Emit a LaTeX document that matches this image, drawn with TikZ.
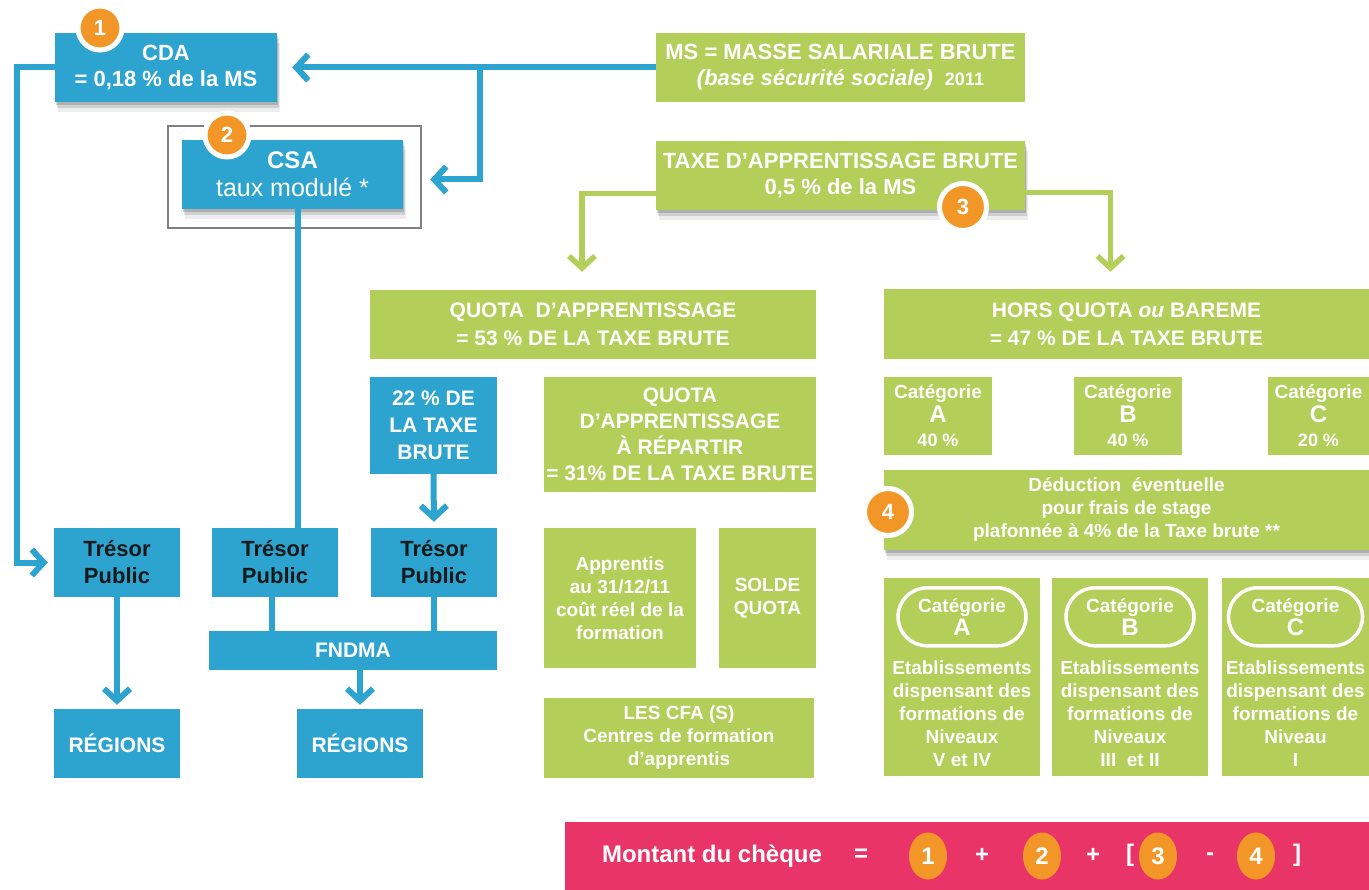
\documentclass[tikz,border=0pt]{standalone}
\usepackage{fontspec}
\setmainfont{Liberation Sans}
\usetikzlibrary{arrows.meta, shadows, shapes.misc, shapes.geometric}

\definecolor{ablue}{RGB}{45,164,208}
\definecolor{agreen}{RGB}{180,206,90}
\definecolor{aorange}{RGB}{243,150,40}
\definecolor{apink}{RGB}{232,52,103}
\definecolor{aframe}{RGB}{128,128,128}
\definecolor{adark}{RGB}{25,25,25}

\newcommand{\fs}[2]{\fontsize{#1}{#2}\selectfont}

\tikzstyle{bluebox} = [rectangle, fill=ablue, text=white, font=\bfseries\fs{21}{26}, align=center, inner sep=0pt]
\tikzstyle{greenbox} = [rectangle, fill=agreen, text=white, font=\bfseries\fs{21}{26}, align=center, inner sep=0pt]
\tikzstyle{boxshadow} = [drop shadow={shadow xshift=1pt, shadow yshift=-3pt, fill=black, opacity=0.16},
  drop shadow={shadow xshift=2pt, shadow yshift=-6pt, fill=black, opacity=0.12},
  drop shadow={shadow xshift=3pt, shadow yshift=-10pt, fill=black, opacity=0.07}]
\tikzstyle{badge} = [circle, fill=aorange, draw=white, line width=5pt, minimum size=44pt, text=white, font=\bfseries\fs{22}{22}, inner sep=0pt]
\tikzstyle{pill} = [ellipse, fill=aorange, minimum width=38pt, minimum height=47pt, text=white, font=\bfseries\fs{24}{24}, inner sep=0pt]
\tikzstyle{oval} = [rounded rectangle, draw=white, line width=3.5pt, minimum width=128pt, minimum height=58pt, text=white, font=\bfseries\fs{19}{23}, align=center, inner sep=0pt]
\tikzstyle{bline} = [draw=ablue, line width=6pt]
\tikzstyle{barrow} = [bline, -{Straight Barb[length=12pt, width=26pt]}]
\tikzstyle{garrow} = [draw=agreen, line width=5.5pt, -{Straight Barb[length=12pt, width=26pt]}]
\tikzstyle{bartext} = [text=white, font=\bfseries\fs{24}{24}, inner sep=0pt]

\begin{document}
\begin{tikzpicture}[x=1pt, y=-1pt]
\useasboundingbox (0,0) rectangle (1369,890);

% left branch
\node (cda) [bluebox, boxshadow, minimum width=222pt, minimum height=69pt, font=\bfseries\fs{22}{26}] at (166,67.5) {CDA\\= 0,18 \% de la MS};
\draw [aframe, line width=1.5pt] (168,126) rectangle (421,228);
\node (csa) [bluebox, boxshadow, minimum width=221pt, minimum height=69pt, font=\bfseries\fs{24}{28}] at (292.5,174.5) {CSA\\{\mdseries\fs{25}{28}taux modulé *}};
\node (pct) [bluebox, minimum width=127pt, minimum height=97pt, font=\bfseries\fs{21}{27}] at (433.5,425.5) {22 \% DE\\LA TAXE\\BRUTE};

\node (tresorA) [bluebox, text=adark, minimum width=126pt, minimum height=69pt, font=\bfseries\fs{22}{27}] at (117,562.5) {Trésor\\Public};
\node (tresorB) [bluebox, text=adark, minimum width=126pt, minimum height=69pt, font=\bfseries\fs{22}{27}] at (275,562.5) {Trésor\\Public};
\node (tresorC) [bluebox, text=adark, minimum width=126pt, minimum height=69pt, font=\bfseries\fs{22}{27}] at (434,562.5) {Trésor\\Public};
\node (fndma) [bluebox, minimum width=288pt, minimum height=39pt] at (353,650.5) {FNDMA};
\node (regionsA) [bluebox, minimum width=126pt, minimum height=69pt] at (117,743.5) {RÉGIONS};
\node (regionsB) [bluebox, minimum width=126pt, minimum height=69pt] at (360,743.5) {RÉGIONS};

% top right
\node (ms) [greenbox, minimum width=369pt, minimum height=69pt, font=\bfseries\fs{22}{26}] at (840.5,67.5) {MS = MASSE SALARIALE BRUTE\\{\itshape (base sécurité sociale)}\hspace{12pt}{\fs{18}{20}2011}};
\node (taxe) [greenbox, boxshadow, minimum width=369pt, minimum height=69pt, font=\bfseries\fs{22}{26}] at (840.5,175.5) {TAXE D’APPRENTISSAGE BRUTE\\0,5 \% de la MS};

% quota
\node (quota) [greenbox, minimum width=446pt, minimum height=69pt, font=\bfseries\fs{21}{28}] at (593,324.5) {QUOTA\ \ D’APPRENTISSAGE\\= 53 \% DE LA TAXE BRUTE};
\node (repartir) [greenbox, minimum width=272pt, minimum height=115pt] at (680,434.5) {QUOTA\\D’APPRENTISSAGE\\À RÉPARTIR\\= 31\% DE LA TAXE BRUTE};
\node (apprentis) [greenbox, minimum width=152pt, minimum height=140pt, font=\bfseries\fs{19}{23}] at (620,598) {Apprentis\\au 31/12/11\\coût réel de la\\formation};
\node (solde) [greenbox, minimum width=97pt, minimum height=140pt, font=\bfseries\fs{19}{23}] at (767.5,598) {SOLDE\\QUOTA};
\node (cfa) [greenbox, minimum width=270pt, minimum height=80pt, font=\bfseries\fs{19}{23}] at (679,738) {LES CFA (S)\\Centres de formation\\d'apprentis};

% hors quota
\node (hors) [greenbox, minimum width=485pt, minimum height=70pt, font=\bfseries\fs{21}{28}] at (1126.5,324) {HORS QUOTA \textit{ou} BAREME\\= 47 \% DE LA TAXE BRUTE};
\node (catA) [greenbox, minimum width=108pt, minimum height=78pt, font=\bfseries\fs{19}{24}] at (938,416) {Catégorie\\{\fs{24}{22}A}\\{\fs{18}{20}40 \%}};
\node (catB) [greenbox, minimum width=108pt, minimum height=78pt, font=\bfseries\fs{19}{24}] at (1128,416) {Catégorie\\{\fs{24}{22}B}\\{\fs{18}{20}40 \%}};
\node (catC) [greenbox, minimum width=101pt, minimum height=78pt, font=\bfseries\fs{19}{24}] at (1318.5,416) {Catégorie\\{\fs{24}{22}C}\\{\fs{18}{20}20 \%}};
\node (deduc) [greenbox, boxshadow, minimum width=485pt, minimum height=80pt, font=\bfseries\fs{19}{23}] at (1126.5,510) {Déduction\ \ éventuelle\\pour frais de stage\\plafonnée à 4\% de la Taxe brute **};

\node (etabA) [greenbox, minimum width=156pt, minimum height=198pt] at (962,677) {};
\node (etabB) [greenbox, minimum width=156pt, minimum height=198pt] at (1130,677) {};
\node (etabC) [greenbox, minimum width=147pt, minimum height=198pt] at (1295.5,677) {};
\node (ovalA) [oval] at ([yshift=-39pt]etabA.north) {Catégorie\\{\fs{24}{24}A}};
\node (ovalB) [oval] at ([yshift=-39pt]etabB.north) {Catégorie\\{\fs{24}{24}B}};
\node (ovalC) [oval, minimum width=134pt] at ([yshift=-39pt]etabC.north) {Catégorie\\{\fs{24}{24}C}};
\node (textA) [text=white, font=\bfseries\fs{19}{23}, align=center, inner sep=0pt] at (962,713.5) {Etablissements\\dispensant des\\formations de\\Niveaux\\V et IV};
\node (textB) [text=white, font=\bfseries\fs{19}{23}, align=center, inner sep=0pt] at (1130,713.5) {Etablissements\\dispensant des\\formations de\\Niveaux\\III\ \ et II};
\node (textC) [text=white, font=\bfseries\fs{19}{23}, align=center, inner sep=0pt] at (1295.5,713.5) {Etablissements\\dispensant des\\formations de\\Niveau\\I};

% blue connectors
\draw [barrow, shorten >=15pt] (ms.west) -- (cda.east);
\coordinate (split) at (480,67.5);
\draw [barrow, shorten >=27pt] (split) |- ([yshift=-5pt]csa.east);
\draw [barrow, shorten >=6pt] (cda.west) -- ++(-38pt,0) |- (tresorA.west);
\draw [bline] ([xshift=5pt]csa.south) -- ([xshift=5pt]csa.south |- tresorB.north);
\draw [barrow, shorten >=6pt] (pct.south) -- (tresorC.north);
\draw [bline] ([xshift=-3pt]tresorB.south) -- ([xshift=-3pt]tresorB.south |- fndma.north);
\draw [bline] (tresorC.south) -- (tresorC.south |- fndma.north);
\draw [barrow, shorten >=4pt] (tresorA.south) -- (regionsA.north);
\draw [barrow, shorten >=4pt] (fndma.south -| regionsB) -- (regionsB.north);

% green connectors
\draw [garrow, shorten >=18pt] ([yshift=-18pt]taxe.west) -| ([xshift=-11pt]quota.north);
\draw [garrow, shorten >=17pt] ([yshift=-17pt]taxe.east) -| ([xshift=-16pt]hors.north);

% badges
\node (b1) [badge] at (100,28) {1};
\node (b2) [badge] at (227,135) {2};
\node (b3) [badge, minimum size=47pt] at (963,207) {3};
\node (b4) [badge, minimum size=47pt] at (888,512) {4};

% total
\node (bar) [fill=apink, minimum width=804pt, minimum height=68pt, inner sep=0pt] at (967,856) {};
\node (montant) [bartext] at (712,856) {Montant du chèque};
\node (eq) [bartext] at (861,855) {=};
\node (p1) [pill] at (928,856) {1};
\node (plus1) [bartext] at (982,855) {+};
\node (p2) [pill] at (1042,856) {2};
\node (plus2) [bartext] at (1093,855) {+};
\node (open) [bartext] at (1130,855) {[};
\node (p3) [pill] at (1158,856) {3};
\node (minus) [bartext] at (1210,857) {-};
\node (p4) [pill] at (1256,856) {4};
\node (close) [bartext] at (1297,855) {]};
\end{tikzpicture}
\end{document}
